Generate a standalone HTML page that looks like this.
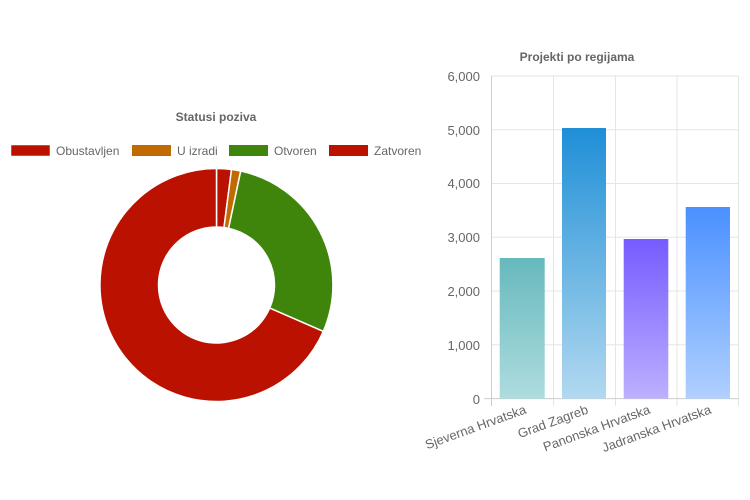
<!DOCTYPE html>
<html><head><meta charset="utf-8"><style>html,body{margin:0;padding:0;background:#fff;}svg{display:block;font-family:"Liberation Sans",Arial,sans-serif;}</style></head>
<body>
<svg width="750" height="500" viewBox="0 0 750 500">
<defs>
<linearGradient id="g1" x1="0" y1="0" x2="0" y2="1"><stop offset="0" stop-color="#66b9bc"/><stop offset="1" stop-color="#aedcdf"/></linearGradient>
<linearGradient id="g2" x1="0" y1="0" x2="0" y2="1"><stop offset="0" stop-color="#1f8fd6"/><stop offset="1" stop-color="#b2d9f0"/></linearGradient>
<linearGradient id="g3" x1="0" y1="0" x2="0" y2="1"><stop offset="0" stop-color="#765bff"/><stop offset="1" stop-color="#bcb0ff"/></linearGradient>
<linearGradient id="g4" x1="0" y1="0" x2="0" y2="1"><stop offset="0" stop-color="#4a90ff"/><stop offset="1" stop-color="#b0d0ff"/></linearGradient>
</defs>
<!-- Donut -->
<text x="216" y="121" font-size="12" font-weight="bold" fill="#666" text-anchor="middle">Statusi poziva</text>
<g font-size="12" fill="#666">
<rect x="11" y="145" width="39" height="11" fill="#bb1100" stroke="#fff" stroke-width="0.5"/><text x="56" y="155">Obustavljen</text>
<rect x="132" y="145" width="39" height="11" fill="#c06a00"/><text x="177" y="155">U izradi</text>
<rect x="229" y="145" width="39" height="11" fill="#3f850c"/><text x="274" y="155">Otvoren</text>
<rect x="329" y="145" width="39" height="11" fill="#bb1100"/><text x="374" y="155">Zatvoren</text>
</g>
<g stroke="#fff" stroke-width="1.5">
<path d="M216.5,168.5 A116.5,116.5 0 0 1 231.5,169.5 L224,227.5 A58,58 0 0 0 216.5,227 Z" fill="#bb1100"/>
<path d="M231.5,169.5 A116.5,116.5 0 0 1 240.7,171.05 L228.6,228.3 A58,58 0 0 0 224,227.5 Z" fill="#c06a00"/>
<path d="M240.7,171.05 A116.5,116.5 0 0 1 323.3,331.4 L269.7,308.1 A58,58 0 0 0 228.6,228.3 Z" fill="#3f850c"/>
<path d="M323.3,331.4 A116.5,116.5 0 1 1 216.5,168.5 L216.5,227 A58,58 0 1 0 269.7,308.1 Z" fill="#bb1100"/>
</g>
<!-- Bar chart -->
<text x="577" y="61" font-size="12" font-weight="bold" fill="#666" text-anchor="middle">Projekti po regijama</text>
<g stroke="#e5e5e5" stroke-width="1">
<line x1="491.5" y1="76" x2="738.5" y2="76"/>
<line x1="491.5" y1="129.8" x2="738.5" y2="129.8"/>
<line x1="491.5" y1="183.5" x2="738.5" y2="183.5"/>
<line x1="491.5" y1="237.3" x2="738.5" y2="237.3"/>
<line x1="491.5" y1="291" x2="738.5" y2="291"/>
<line x1="491.5" y1="344.8" x2="738.5" y2="344.8"/>
<line x1="553.5" y1="76" x2="553.5" y2="406"/>
<line x1="615.5" y1="76" x2="615.5" y2="406"/>
<line x1="677" y1="76" x2="677" y2="406"/>
<line x1="738.5" y1="76" x2="738.5" y2="406"/>
<line x1="484" y1="398.6" x2="738.5" y2="398.6" stroke="#ccc"/>
<line x1="491.5" y1="76" x2="491.5" y2="406" stroke="#ccc"/>
</g>
<g font-size="13" fill="#666" text-anchor="end">
<text x="480" y="81">6,000</text>
<text x="480" y="135">5,000</text>
<text x="480" y="188">4,000</text>
<text x="480" y="242">3,000</text>
<text x="480" y="296">2,000</text>
<text x="480" y="350">1,000</text>
<text x="480" y="404">0</text>
</g>
<rect x="499.7" y="258" width="45" height="140.6" fill="url(#g1)"/>
<rect x="562" y="128" width="44" height="270.6" fill="url(#g2)"/>
<rect x="623.7" y="239" width="44.6" height="159.6" fill="url(#g3)"/>
<rect x="685.7" y="207" width="44.3" height="191.6" fill="url(#g4)"/>
<g font-size="13" fill="#666" text-anchor="end">
<text transform="translate(527,413) rotate(-20)">Sjeverna Hrvatska</text>
<text transform="translate(589,413) rotate(-20)">Grad Zagreb</text>
<text transform="translate(651,413) rotate(-20)">Panonska Hrvatska</text>
<text transform="translate(712,413) rotate(-20)">Jadranska Hrvatska</text>
</g>
</svg>
</body></html>
